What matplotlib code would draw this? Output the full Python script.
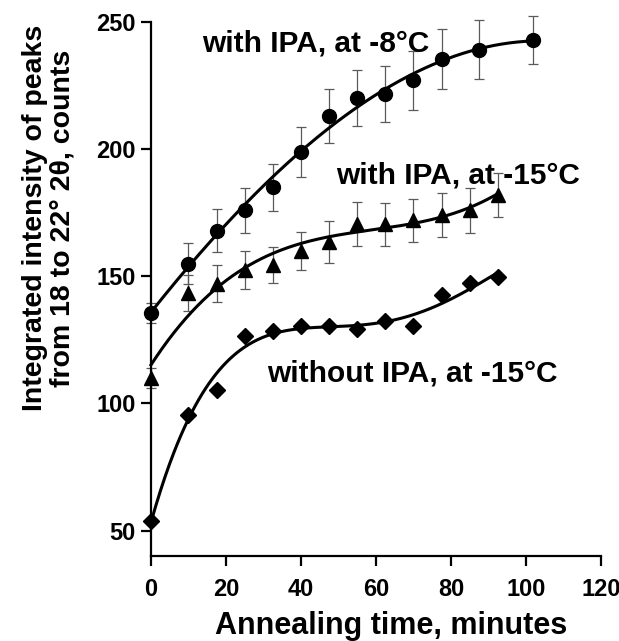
import numpy as np
import matplotlib
matplotlib.use("Agg")
import matplotlib.pyplot as plt

plt.rcParams['font.family'] = ['Liberation Sans', 'DejaVu Sans']
plt.rcParams['font.weight'] = 'bold'

# with IPA, at -8C (circles)
t_8 = [0, 10, 17.5, 25, 32.5, 40, 47.5, 55, 62.5, 70, 77.5, 87.5, 102]
y_8 = [135.5, 155, 168, 176, 185, 199, 213, 220, 221.5, 227, 235.5, 239, 243]
e_8 = [4, 7.9, 8.3, 8.9, 9.2, 9.8, 10.6, 11, 11, 11.5, 11.7, 11.6, 9.5]

# with IPA, at -15C (triangles)
t_15 = [0, 10, 17.5, 25, 32.5, 40, 47.5, 55, 62.5, 70, 77.5, 85, 92.5]
y_15 = [110, 143.5, 147, 152.5, 154.5, 160, 163.5, 170.5, 170.5, 172, 174, 176, 182]
e_15 = [4, 7.2, 7.3, 7.5, 7, 7.5, 8.1, 8.7, 8.5, 8.5, 8.7, 8.8, 8.5]

# without IPA, at -15C (diamonds)
t_no = [0, 10, 17.5, 25, 32.5, 40, 47.5, 55, 62.5, 70, 77.5, 85, 92.5]
y_no = [53.7, 95.3, 105.4, 126.4, 128.5, 130.3, 130.3, 129.4, 132.4, 130.3, 142.5, 147.4, 149.7]

fig = plt.figure(figsize=(6.19, 6.41), dpi=100)
ax = fig.add_axes([0.2439, 0.1326, 0.7270, 0.8331])

# smooth fitted curves
for t, y, deg in [(t_8, y_8, 3), (t_15, y_15, 3), (t_no, y_no, 4)]:
    p = np.polyfit(t, y, deg)
    xs = np.linspace(0, max(t), 300)
    ax.plot(xs, np.polyval(p, xs), color='black', lw=2.2, zorder=3, clip_on=False)

ax.errorbar(t_8, y_8, yerr=e_8, fmt='none', ecolor='#5a5a5a', elinewidth=0.9,
            capsize=3.5, capthick=0.9, zorder=2, clip_on=False)
ax.errorbar(t_15, y_15, yerr=e_15, fmt='none', ecolor='#5a5a5a', elinewidth=0.9,
            capsize=3.5, capthick=0.9, zorder=2, clip_on=False)

ax.plot(t_8, y_8, 'o', color='black', ms=10, ls='none', zorder=4, clip_on=False)
ax.plot(t_15, y_15, '^', color='black', ms=10, ls='none', zorder=4, clip_on=False)
ax.plot(t_no, y_no, 'D', color='black', ms=8.5, ls='none', zorder=4, clip_on=False)

ax.text(13.5, 241.7, 'with IPA, at -8°C', fontsize=21.5, fontweight='bold', va='center', ha='left')
ax.text(49.3, 189.8, 'with IPA, at -15°C', fontsize=21.5, fontweight='bold', va='center', ha='left')
ax.text(30.9, 111.8, 'without IPA, at -15°C', fontsize=21.5, fontweight='bold', va='center', ha='left')

ax.set_xlim(0, 120)
ax.set_ylim(40, 250)
ax.set_xticks([0, 20, 40, 60, 80, 100, 120])
ax.set_yticks([50, 100, 150, 200, 250])

ax.spines['top'].set_visible(False)
ax.spines['right'].set_visible(False)
ax.spines['left'].set_linewidth(1.6)
ax.spines['bottom'].set_linewidth(1.6)
ax.tick_params(axis='both', direction='out', length=7, width=1.6, labelsize=17, pad=4)
ax.tick_params(axis='x', pad=9)

ax.set_xlabel('Annealing time, minutes', fontsize=22, fontweight='bold')
ax.xaxis.set_label_coords(0.533, -0.103)
ax.set_ylabel('Integrated intensity of peaks\nfrom 18 to 22° 2θ, counts', fontsize=20.5,
              fontweight='bold', linespacing=1.1)
ax.yaxis.set_label_coords(-0.167, 0.633)

fig.savefig('out.png', dpi=100)
